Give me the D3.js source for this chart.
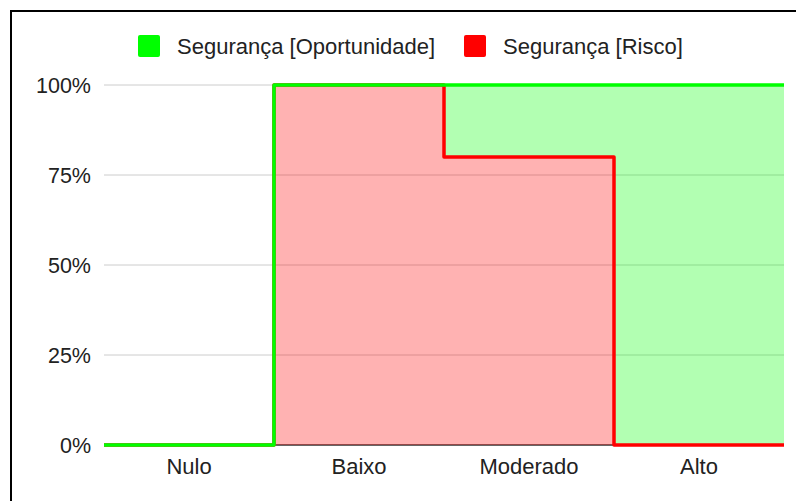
<!DOCTYPE html>
<html><head><meta charset="utf-8">
<script src="https://cdn.jsdelivr.net/npm/d3@7"></script>
<style>
html,body{margin:0;padding:0;background:#fff;overflow:hidden}
text{font-family:Arial,"Liberation Sans",sans-serif;}
</style></head>
<body><svg id="c" width="796" height="501"></svg>
<script>
const categories = ["Nulo", "Baixo", "Moderado", "Alto"];
const risco = [0, 100, 80, 0];
const oportunidade = [0, 0, 20, 100];
const seriesNames = ["Segurança [Oportunidade]", "Segurança [Risco]"];
const yTicks = [0, 25, 50, 75, 100];

const svg = d3.select("#c");
const x = d3.scaleBand().domain(categories).range([104, 784]).padding(0);
const y = d3.scaleLinear().domain([0, 100]).range([445, 85]);

// border
svg.append("rect").attr("x", 11).attr("y", 11).attr("width", 820).attr("height", 520)
  .attr("fill", "none").attr("stroke", "#000").attr("stroke-width", 2);

// gridlines
svg.append("g").selectAll("line").data(yTicks.filter(d => d > 0)).join("line")
  .attr("x1", 104).attr("x2", 784).attr("y1", d => y(d)).attr("y2", d => y(d))
  .attr("stroke", "#cccccc").attr("stroke-width", 1);

// y labels
svg.append("g").selectAll("text").data(yTicks).join("text")
  .attr("x", 91).attr("y", d => y(d) + 7.5).attr("text-anchor", "end")
  .attr("font-size", 21.5).attr("fill", "#222").text(d => d + "%");

// step points
function steps(vals) {
  const pts = [];
  categories.forEach((c, i) => {
    pts.push({x: x(c), v: vals[i]});
    pts.push({x: x(c) + x.bandwidth(), v: vals[i]});
  });
  return pts;
}
const total = risco.map((r, i) => r + oportunidade[i]);
const rPts = steps(risco), tPts = steps(total);

// baseline
svg.append("line").attr("x1", 104).attr("x2", 784).attr("y1", y(0)).attr("y2", y(0))
  .attr("stroke", "#333").attr("stroke-width", 1.5);

// areas
const areaR = d3.area().x(d => d.x).y0(y(0)).y1(d => y(d.v));
svg.append("path").datum(rPts).attr("d", areaR).attr("fill", "#ff0000").attr("fill-opacity", 0.3);
const areaG = d3.area().x(d => d.x).y0((d, i) => y(rPts[i].v)).y1(d => y(d.v));
svg.append("path").datum(tPts).attr("d", areaG).attr("fill", "#00ff00").attr("fill-opacity", 0.3);

// lines
const ln = d3.line().x(d => d.x).y(d => y(d.v));
svg.append("path").datum(rPts).attr("d", ln).attr("fill", "none").attr("stroke", "#ff0000")
  .attr("stroke-width", 3.5).attr("stroke-linejoin", "round");
svg.append("path").datum(tPts).attr("d", ln).attr("fill", "none").attr("stroke", "#00ff00")
  .attr("stroke-width", 3.5).attr("stroke-linejoin", "round");

// x labels
svg.append("g").selectAll("text").data(categories).join("text")
  .attr("x", d => x(d) + x.bandwidth() / 2).attr("y", 474).attr("text-anchor", "middle")
  .attr("font-size", 22).attr("fill", "#222").text(d => d);

// legend
const legColors = ["#00ff00", "#ff0000"];
const legX = [138, 464];
const lg = svg.append("g");
seriesNames.forEach((n, i) => {
  lg.append("rect").attr("x", legX[i]).attr("y", 35).attr("width", 22).attr("height", 22)
    .attr("rx", 2).attr("fill", legColors[i]);
  lg.append("text").attr("x", legX[i] + 39).attr("y", 53.5).attr("font-size", 22)
    .attr("fill", "#222").text(n);
});
</script></body></html>
